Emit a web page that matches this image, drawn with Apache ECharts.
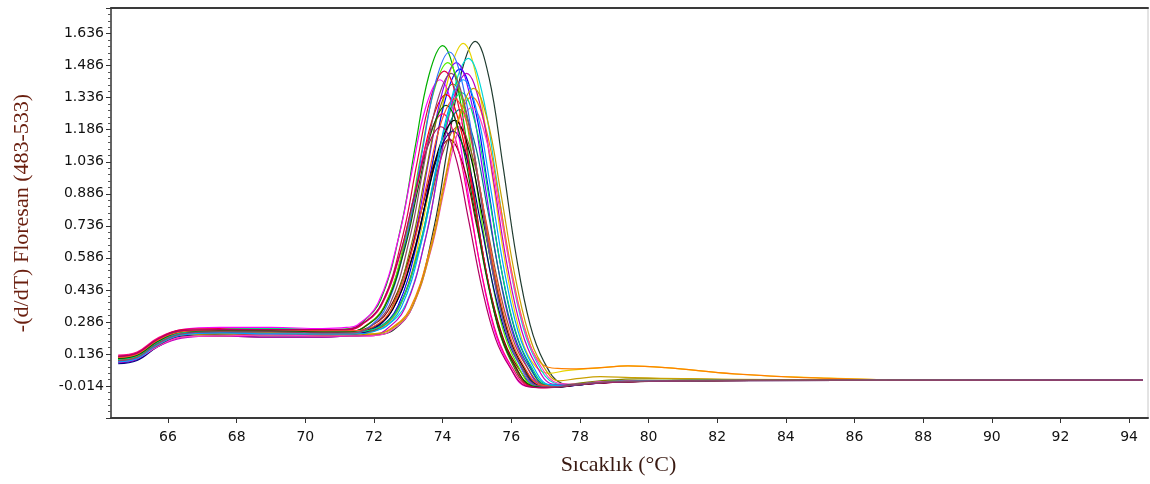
<!DOCTYPE html>
<html><head><meta charset="utf-8">
<script src="https://cdn.jsdelivr.net/npm/echarts@6/dist/echarts.min.js"></script>
<style>html,body{margin:0;padding:0;background:#fff}#c{width:1150px;height:484px}</style>
</head><body><div id="c"></div>
<script>
const xTicks = [66,68,70,72,74,76,78,80,82,84,86,88,90,92,94];
const yTicks = [-0.014,0.136,0.286,0.436,0.586,0.736,0.886,1.036,1.186,1.336,1.486,1.636];

const c01 = [[64.55,0.115],[65.1,0.13],[65.7,0.19],[66.4,0.24],[67.5,0.25],[69.0,0.255],[70.5,0.25],[71.3,0.255],[71.6,0.275],[72.2,0.391],[72.8,0.741],[73.2,1.104],[73.6,1.44],[74.0,1.58],[74.4,1.414],[74.8,1.014],[75.2,0.583],[75.6,0.269],[76.0,0.10],[76.5,-0.01],[77.0,-0.02],[77.8,-0.005],[79.0,0.008],[81.0,0.012],[85.0,0.013],[94.4,0.013]];
const c02 = [[64.55,0.10],[65.1,0.115],[65.7,0.175],[66.4,0.215],[67.5,0.22],[69.0,0.215],[70.5,0.215],[71.3,0.22],[72.0,0.225],[72.55,0.246],[73.15,0.366],[73.75,0.729],[74.15,1.106],[74.55,1.455],[74.95,1.60],[75.35,1.432],[75.75,1.027],[76.15,0.59],[76.55,0.272],[76.95,0.101],[77.45,0.0],[77.95,-0.01],[78.5,0.005],[80.0,0.01],[83.0,0.012],[88.0,0.013],[94.4,0.013]];
const c03 = [[64.55,0.105],[65.1,0.12],[65.7,0.18],[66.4,0.225],[67.5,0.23],[69.0,0.235],[70.5,0.23],[71.3,0.23],[72.2,0.256],[72.8,0.374],[73.4,0.732],[73.8,1.103],[74.2,1.447],[74.6,1.59],[75.0,1.423],[75.4,1.021],[75.8,0.587],[76.2,0.27],[76.6,0.10],[77.1,0.045],[77.6,0.058],[78.5,0.07],[79.4,0.08],[80.5,0.072],[82.5,0.042],[85.0,0.024],[87.0,0.015],[90.0,0.013],[94.4,0.013]];
const c04 = [[64.55,0.12],[65.1,0.135],[65.7,0.2],[66.4,0.245],[67.5,0.25],[69.0,0.255],[70.5,0.245],[71.3,0.24],[71.9,0.245],[72.35,0.264],[72.95,0.376],[73.55,0.712],[73.95,1.062],[74.35,1.386],[74.75,1.52],[75.15,1.36],[75.55,0.976],[75.95,0.561],[76.35,0.258],[76.75,0.096],[77.25,0.0],[77.75,-0.01],[78.5,0.005],[80.0,0.01],[84.0,0.012],[94.4,0.013]];
const c05 = [[64.55,0.095],[65.1,0.11],[65.7,0.175],[66.4,0.22],[67.5,0.235],[69.0,0.23],[70.5,0.225],[71.3,0.23],[72.1,0.254],[72.7,0.361],[73.3,0.688],[73.7,1.026],[74.1,1.34],[74.5,1.47],[74.9,1.316],[75.3,0.944],[75.7,0.542],[76.1,0.25],[76.5,0.093],[77.0,-0.01],[77.5,-0.015],[78.2,-0.005],[79.5,0.008],[82.0,0.012],[94.4,0.013]];
const c06 = [[64.55,0.125],[65.1,0.14],[65.7,0.205],[66.4,0.25],[67.5,0.26],[69.0,0.26],[70.5,0.255],[71.2,0.26],[71.52,0.272],[72.12,0.374],[72.72,0.682],[73.12,1.001],[73.52,1.297],[73.92,1.42],[74.32,1.271],[74.72,0.912],[75.12,0.524],[75.52,0.241],[75.92,0.089],[76.42,-0.015],[76.92,-0.02],[77.6,-0.01],[78.5,0.0],[80.0,0.008],[83.0,0.012],[94.4,0.013]];
const c07 = [[64.55,0.12],[65.1,0.135],[65.7,0.2],[66.4,0.235],[67.5,0.24],[69.0,0.245],[70.5,0.24],[71.3,0.24],[71.7,0.261],[72.3,0.358],[72.9,0.65],[73.3,0.953],[73.7,1.233],[74.1,1.35],[74.5,1.208],[74.9,0.867],[75.3,0.498],[75.7,0.23],[76.1,0.085],[76.6,-0.015],[77.1,-0.02],[77.8,-0.01],[78.8,0.003],[80.5,0.01],[84.0,0.012],[94.4,0.013]];
const c08 = [[64.55,0.11],[65.1,0.125],[65.7,0.185],[66.4,0.225],[67.5,0.235],[69.0,0.23],[70.5,0.225],[71.5,0.225],[72.0,0.23],[72.45,0.251],[73.05,0.348],[73.65,0.64],[74.05,0.943],[74.45,1.223],[74.85,1.34],[75.25,1.199],[75.65,0.86],[76.05,0.494],[76.45,0.228],[76.85,0.095],[77.35,0.068],[77.9,0.066],[78.6,0.072],[79.4,0.08],[80.5,0.072],[82.5,0.043],[85.0,0.023],[87.0,0.015],[90.0,0.013],[94.4,0.013]];
const c09 = [[64.55,0.1],[65.1,0.115],[65.7,0.18],[66.4,0.23],[67.5,0.24],[69.0,0.24],[70.5,0.235],[71.3,0.23],[72.0,0.254],[72.6,0.365],[73.2,0.699],[73.6,1.045],[74.0,1.367],[74.4,1.50],[74.8,1.343],[75.2,0.963],[75.6,0.554],[76.0,0.255],[76.4,0.095],[76.9,-0.012],[77.4,-0.018],[78.2,-0.005],[79.5,0.008],[82.0,0.012],[94.4,0.013]];
const c10 = [[64.55,0.115],[65.1,0.13],[65.7,0.19],[66.4,0.235],[67.5,0.24],[69.0,0.24],[70.5,0.24],[71.3,0.24],[71.8,0.257],[72.4,0.335],[73.0,0.572],[73.4,0.818],[73.8,1.046],[74.2,1.14],[74.6,1.02],[75.0,0.732],[75.4,0.421],[75.8,0.194],[76.2,0.072],[76.7,-0.012],[77.2,-0.018],[78.0,-0.005],[79.2,0.005],[81.0,0.01],[85.0,0.012],[94.4,0.013]];
const c11 = [[64.55,0.13],[65.1,0.145],[65.7,0.21],[66.4,0.245],[67.5,0.245],[69.0,0.25],[70.5,0.245],[71.2,0.25],[71.6,0.269],[72.2,0.357],[72.8,0.623],[73.2,0.898],[73.6,1.154],[74.0,1.26],[74.4,1.128],[74.8,0.809],[75.2,0.465],[75.6,0.214],[76.0,0.079],[76.5,-0.015],[77.0,-0.022],[77.7,-0.012],[78.6,0.0],[80.0,0.008],[83.0,0.012],[94.4,0.013]];
const c12 = [[64.55,0.105],[65.1,0.12],[65.7,0.175],[66.4,0.215],[67.5,0.22],[69.0,0.225],[70.5,0.22],[71.3,0.22],[71.9,0.242],[72.5,0.345],[73.1,0.655],[73.5,0.978],[73.9,1.276],[74.3,1.40],[74.7,1.253],[75.1,0.899],[75.5,0.517],[75.9,0.238],[76.3,0.088],[76.8,-0.01],[77.3,-0.015],[78.0,0.0],[79.0,0.015],[80.5,0.02],[83.0,0.015],[94.4,0.013]];
const c13 = [[64.55,0.11],[65.1,0.125],[65.7,0.19],[66.4,0.235],[67.5,0.245],[69.0,0.25],[70.5,0.24],[71.3,0.24],[72.1,0.26],[72.7,0.35],[73.3,0.624],[73.7,0.908],[74.1,1.171],[74.5,1.28],[74.9,1.146],[75.3,0.822],[75.7,0.472],[76.1,0.218],[76.5,0.081],[77.0,-0.01],[77.5,-0.015],[78.3,-0.003],[79.5,0.008],[82.0,0.012],[94.4,0.013]];
const c14 = [[64.55,0.12],[65.1,0.135],[65.7,0.2],[66.4,0.24],[67.5,0.245],[69.0,0.24],[70.5,0.24],[71.3,0.24],[71.75,0.264],[72.35,0.374],[72.95,0.705],[73.35,1.049],[73.75,1.368],[74.15,1.50],[74.55,1.343],[74.95,0.963],[75.35,0.554],[75.75,0.255],[76.15,0.095],[76.65,-0.012],[77.15,-0.018],[77.9,-0.008],[79.0,0.005],[81.0,0.01],[85.0,0.012],[94.4,0.013]];
const c15 = [[64.55,0.1],[65.1,0.115],[65.7,0.175],[66.4,0.22],[67.5,0.23],[69.0,0.225],[70.5,0.225],[71.3,0.23],[72.05,0.248],[72.65,0.333],[73.25,0.588],[73.65,0.853],[74.05,1.098],[74.45,1.20],[74.85,1.074],[75.25,0.77],[75.65,0.443],[76.05,0.204],[76.45,0.076],[76.95,-0.01],[77.45,-0.015],[78.2,-0.003],[79.5,0.008],[82.0,0.012],[94.4,0.013]];
const c16 = [[64.55,0.095],[65.1,0.11],[65.7,0.17],[66.4,0.21],[67.5,0.22],[69.0,0.215],[70.5,0.215],[71.3,0.22],[71.9,0.22],[72.3,0.243],[72.9,0.35],[73.5,0.674],[73.9,1.01],[74.3,1.321],[74.7,1.45],[75.1,1.298],[75.5,0.931],[75.9,0.535],[76.3,0.247],[76.7,0.091],[77.2,-0.005],[77.7,-0.01],[78.5,0.003],[80.0,0.01],[84.0,0.012],[94.4,0.013]];
const c17 = [[64.55,0.09],[65.1,0.105],[65.7,0.17],[66.4,0.22],[67.5,0.23],[69.0,0.235],[70.5,0.23],[71.3,0.23],[71.9,0.248],[72.5,0.331],[73.1,0.581],[73.5,0.84],[73.9,1.08],[74.3,1.18],[74.7,1.056],[75.1,0.758],[75.5,0.435],[75.9,0.201],[76.3,0.074],[76.8,-0.012],[77.3,-0.018],[78.0,-0.006],[79.3,0.006],[81.5,0.011],[94.4,0.013]];
const c18 = [[64.55,0.105],[65.1,0.12],[65.7,0.185],[66.4,0.23],[67.5,0.235],[69.0,0.24],[70.5,0.235],[71.3,0.24],[71.95,0.259],[72.55,0.345],[73.15,0.605],[73.55,0.876],[73.95,1.126],[74.35,1.23],[74.75,1.101],[75.15,0.79],[75.55,0.454],[75.95,0.209],[76.35,0.077],[76.85,-0.012],[77.35,-0.02],[78.0,-0.008],[79.2,0.005],[81.0,0.01],[85.0,0.012],[94.4,0.013]];
const c19 = [[64.55,0.125],[65.1,0.14],[65.7,0.205],[66.4,0.25],[67.5,0.255],[69.0,0.25],[70.5,0.25],[71.3,0.25],[71.65,0.273],[72.25,0.378],[72.85,0.696],[73.25,1.027],[73.65,1.333],[74.05,1.46],[74.45,1.307],[74.85,0.937],[75.25,0.539],[75.65,0.248],[76.05,0.092],[76.55,-0.015],[77.05,-0.022],[77.8,-0.01],[78.8,0.002],[80.5,0.01],[84.0,0.012],[94.4,0.013]];
const c20 = [[64.55,0.11],[65.1,0.125],[65.7,0.19],[66.4,0.235],[67.5,0.25],[69.0,0.255],[70.5,0.245],[71.3,0.24],[72.15,0.261],[72.75,0.359],[73.35,0.653],[73.75,0.959],[74.15,1.242],[74.55,1.36],[74.95,1.217],[75.35,0.873],[75.75,0.502],[76.15,0.231],[76.55,0.086],[77.05,-0.008],[77.55,-0.012],[78.3,0.0],[79.5,0.008],[82.0,0.012],[94.4,0.013]];
const c21 = [[64.55,0.1],[65.1,0.115],[65.7,0.17],[66.4,0.215],[67.5,0.22],[69.0,0.225],[70.5,0.22],[71.5,0.22],[72.0,0.222],[72.45,0.24],[73.05,0.333],[73.65,0.615],[74.05,0.907],[74.45,1.178],[74.85,1.29],[75.25,1.155],[75.65,0.828],[76.05,0.476],[76.45,0.219],[76.85,0.081],[77.35,0.0],[77.85,-0.005],[78.6,0.005],[80.0,0.01],[84.0,0.012],[94.4,0.013]];
const c22 = [[64.55,0.1],[65.1,0.115],[65.7,0.18],[66.4,0.23],[67.5,0.235],[69.0,0.235],[70.5,0.23],[71.3,0.23],[71.8,0.255],[72.4,0.37],[73.0,0.717],[73.4,1.077],[73.8,1.411],[74.2,1.55],[74.6,1.387],[75.0,0.995],[75.4,0.572],[75.8,0.264],[76.2,0.098],[76.7,-0.012],[77.2,-0.018],[77.9,-0.006],[79.2,0.006],[81.5,0.011],[94.4,0.013]];
const c23 = [[64.55,0.105],[65.1,0.12],[65.7,0.18],[66.4,0.225],[67.5,0.23],[69.0,0.235],[70.5,0.23],[71.5,0.23],[72.0,0.23],[72.5,0.252],[73.1,0.352],[73.7,0.654],[74.1,0.968],[74.5,1.259],[74.9,1.38],[75.3,1.235],[75.7,0.886],[76.1,0.509],[76.5,0.235],[76.9,0.087],[77.4,0.01],[77.9,0.02],[78.6,0.03],[79.5,0.025],[81.0,0.02],[84.0,0.016],[88.0,0.013],[94.4,0.013]];
const c24 = [[64.55,0.115],[65.1,0.13],[65.7,0.195],[66.4,0.24],[67.5,0.245],[69.0,0.245],[70.5,0.24],[71.3,0.24],[71.7,0.26],[72.3,0.352],[72.9,0.631],[73.3,0.921],[73.7,1.189],[74.1,1.30],[74.5,1.164],[74.9,0.835],[75.3,0.48],[75.7,0.221],[76.1,0.082],[76.6,-0.013],[77.1,-0.02],[77.8,-0.008],[78.8,0.003],[80.5,0.01],[84.0,0.012],[94.4,0.013]];
const c25 = [[64.55,0.12],[65.1,0.135],[65.7,0.2],[66.4,0.24],[67.5,0.25],[69.0,0.25],[70.5,0.245],[71.3,0.245],[71.95,0.261],[72.55,0.356],[73.15,0.642],[73.55,0.94],[73.95,1.216],[74.35,1.33],[74.75,1.19],[75.15,0.854],[75.55,0.491],[75.95,0.226],[76.35,0.084],[76.85,-0.01],[77.35,-0.016],[78.0,-0.005],[79.2,0.006],[81.5,0.011],[94.4,0.013]];
const c26 = [[64.55,0.1],[65.1,0.115],[65.7,0.18],[66.4,0.225],[67.5,0.235],[69.0,0.23],[70.5,0.23],[71.3,0.23],[72.2,0.253],[72.8,0.356],[73.4,0.669],[73.8,0.994],[74.2,1.295],[74.6,1.42],[75.0,1.271],[75.4,0.912],[75.8,0.524],[76.2,0.241],[76.6,0.089],[77.1,-0.008],[77.6,-0.012],[78.4,0.0],[79.6,0.008],[82.0,0.012],[94.4,0.013]];
const c27 = [[64.55,0.125],[65.1,0.14],[65.7,0.205],[66.4,0.245],[67.5,0.25],[69.0,0.25],[70.5,0.25],[71.2,0.25],[71.55,0.268],[72.15,0.351],[72.75,0.601],[73.15,0.86],[73.55,1.10],[73.95,1.20],[74.35,1.074],[74.75,0.77],[75.15,0.443],[75.55,0.204],[75.95,0.076],[76.45,-0.016],[76.95,-0.022],[77.7,-0.012],[78.6,0.0],[80.0,0.008],[83.0,0.012],[94.4,0.013]];
const c28 = [[64.55,0.105],[65.1,0.12],[65.7,0.185],[66.4,0.23],[67.5,0.24],[69.0,0.24],[70.5,0.235],[71.3,0.235],[71.85,0.258],[72.45,0.364],[73.05,0.683],[73.45,1.015],[73.85,1.322],[74.25,1.45],[74.65,1.298],[75.05,0.931],[75.45,0.535],[75.85,0.247],[76.25,0.091],[76.75,-0.012],[77.25,-0.018],[78.0,-0.005],[79.2,0.006],[81.5,0.011],[94.4,0.013]];

const curves = [c01,c02,c03,c04,c05,c06,c07,c08,c09,c10,c11,c12,c13,c14,c15,c16,c17,c18,c19,c20,c21,c22,c23,c24,c25,c26,c27,c28];
const colors = ['#00b000','#1f3b2f','#e8d400','#00d8d8','#0000ff','#ff00ff','#ff0000','#ff8000','#8000ff','#8b0000','#ff0080','#808000','#008080','#50f000','#a0522d','#c000c0','#000080','#000000','#e00040','#00e070','#ff40c0','#3070ff','#c8a000','#006400','#ff5030','#00a0ff','#b00060','#8a4a6a'];

function yFmt(v){
  const k = (v + 0.014) / 0.15;
  if (v < -0.1 || Math.abs(k - Math.round(k)) > 1e-3) return '';
  return v.toFixed(3);
}

const chart = echarts.init(document.getElementById('c'), null, {renderer:'canvas'});
chart.setOption({
  animation: false,
  backgroundColor: '#ffffff',
  grid: {left:111, right:2, top:8, bottom:66, show:true, borderColor:'#c8c8c8', borderWidth:1, backgroundColor:'transparent'},
  xAxis: [{
    type:'value', min:64.34, max:94.55,
    splitLine:{show:false},
    axisLine:{onZero:false, lineStyle:{color:'#3a3a3a', width:2}},
    axisTick:{customValues:xTicks, length:5, lineStyle:{color:'#333', width:1}},
    axisLabel:{customValues:xTicks, fontFamily:'DejaVu Sans', fontSize:14, color:'#111', margin:12},
    name:'Sıcaklık (°C)', nameLocation:'middle', nameGap:36,
    nameTextStyle:{fontFamily:'Liberation Serif', fontSize:22, color:'#3a1a12', padding:[0,22,0,0]}
  },{
    type:'value', position:'top', min:64.34, max:94.55,
    splitLine:{show:false},
    axisLine:{show:true, onZero:false, lineStyle:{color:'#3a3a3a', width:2}},
    axisTick:{show:false}, axisLabel:{show:false}
  }],
  yAxis: {
    type:'value', min:-0.164, max:1.756, interval:0.15,
    splitLine:{show:false},
    axisLine:{show:true, onZero:false, lineStyle:{color:'#3a3a3a', width:1.5}},
    axisTick:{show:true, length:5, lineStyle:{color:'#333', width:1}},
    minorTick:{show:true, splitNumber:5, length:3, lineStyle:{color:'#555', width:1}},
    axisLabel:{formatter:yFmt, fontFamily:'DejaVu Sans', fontSize:14, color:'#111', margin:7},
    name:'-(d/dT) Floresan (483-533)', nameLocation:'middle', nameGap:78,
    nameTextStyle:{fontFamily:'Liberation Serif', fontSize:22, color:'#6a1f0f'}
  },
  series: curves.map((d,i) => ({
    type:'line', data:d, xAxisIndex:0, showSymbol:false, smooth:0.4,
    lineStyle:{width:1.2, color:colors[i]}, itemStyle:{color:colors[i]}, z:2
  }))
});
</script>
</body></html>
